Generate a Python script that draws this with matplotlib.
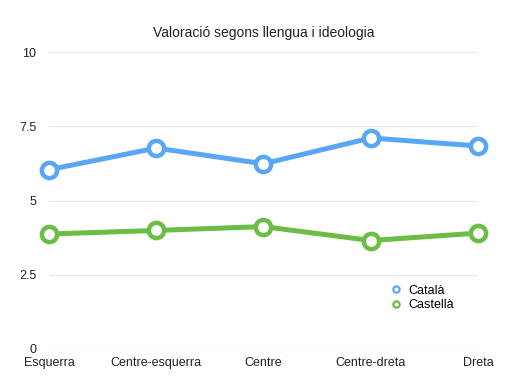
import matplotlib
matplotlib.use("Agg")
import matplotlib.pyplot as plt
from matplotlib.lines import Line2D

plt.rcParams['font.family'] = ['Liberation Sans', 'DejaVu Sans']

categories = ["Esquerra", "Centre-esquerra", "Centre", "Centre-dreta", "Dreta"]
catala = [6.04, 6.77, 6.24, 7.11, 6.84]
castella = [3.87, 3.99, 4.12, 3.65, 3.90]
yticks = [0, 2.5, 5, 7.5, 10]
ytick_labels = ["0", "2.5", "5", "7.5", "10"]
title = "Valoració segons llengua i ideologia"
series_names = ["Català", "Castellà"]

blue = "#58A6F4"
green = "#6BBD45"

fig = plt.figure(figsize=(5.21, 3.82), dpi=100)
ax = fig.add_axes([0.094, 0.0872, 0.8235, 0.7758])

x = list(range(len(categories)))
for vals, col in [(catala, blue), (castella, green)]:
    ax.plot(x, vals, color=col, linewidth=3.6, marker='o', markersize=11,
            markerfacecolor='white', markeredgecolor=col, markeredgewidth=3.2,
            solid_capstyle='round', zorder=3, clip_on=False)

ax.set_xlim(0, len(categories) - 1)
ax.set_ylim(0, 10)
ax.set_yticks(yticks)
ax.set_yticklabels(ytick_labels)
ax.set_xticks(x)
ax.set_xticklabels(categories)
ax.tick_params(length=0, labelsize=9, colors='#222222')
ax.tick_params(axis='y', pad=9)
ax.tick_params(axis='x', pad=6)
ax.grid(axis='y', color='#e8e8e8', linewidth=0.9)
ax.set_axisbelow(True)
for s in ax.spines.values():
    s.set_visible(False)

ax.set_title(title, fontsize=10, color='#222222', pad=11)

handles = [Line2D([], [], linestyle='none', marker='o', markersize=4.5,
                  markerfacecolor='white', markeredgecolor=c, markeredgewidth=1.6)
           for c in (blue, green)]
ax.legend(handles, series_names, loc='lower left', bbox_to_anchor=(0.776, 0.097),
          frameon=False, fontsize=9, handlelength=0.8, handletextpad=0.6,
          labelspacing=0.2, borderpad=0.2)

fig.savefig("out.png", dpi=100)
